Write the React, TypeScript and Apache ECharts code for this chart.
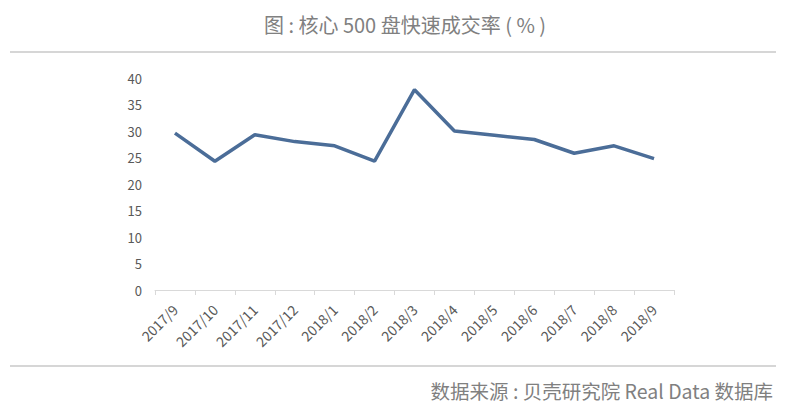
import React, { useEffect, useRef } from "react";
import * as echarts from "echarts";

const categories = [
  "2017/9", "2017/10", "2017/11", "2017/12", "2018/1", "2018/2", "2018/3",
  "2018/4", "2018/5", "2018/6", "2018/7", "2018/8", "2018/9",
];
const rates = [29.6, 24.3, 29.3, 28.0, 27.2, 24.3, 37.8, 30.0, 29.2, 28.4, 25.8, 27.2, 24.8];
const titleText = "图 : 核心 500 盘快速成交率 ( % )";
const sourceText = "数据来源 : 贝壳研究院 Real Data 数据库";

export default function App() {
  const ref = useRef<HTMLDivElement>(null);
  useEffect(() => {
    if (!ref.current) return;
    const chart = echarts.init(ref.current, undefined, { renderer: "svg" });
    const font = "'Microsoft YaHei', 'Noto Sans CJK SC', 'Open Sans', sans-serif";
    chart.setOption({
      animation: false,
      backgroundColor: "#ffffff",
      grid: { left: 155, right: 114, top: 78, bottom: 126, containLabel: false },
      xAxis: {
        type: "category",
        data: categories,
        boundaryGap: true,
        axisLine: { lineStyle: { color: "#d9d9d9", width: 1 } },
        axisTick: { show: true, length: 5, lineStyle: { color: "#d9d9d9" } },
        axisLabel: { rotate: 45, color: "#595959", fontSize: 14, fontFamily: font, margin: 17, interval: 0 },
      },
      yAxis: {
        type: "value",
        min: 0,
        max: 40,
        interval: 5,
        axisLine: { show: false },
        axisTick: { show: false },
        splitLine: { show: false },
        axisLabel: { color: "#595959", fontSize: 13, fontFamily: font, margin: 13 },
      },
      series: [
        {
          type: "line",
          data: rates,
          symbol: "none",
          lineStyle: { color: "#4b6d98", width: 3.5 },
        },
      ],
      graphic: [
        {
          type: "text",
          x: 405,
          y: 14,
          style: { text: titleText, fill: "#808080", fontSize: 20, fontFamily: font, align: "center" },
        },
        {
          type: "line",
          shape: { x1: 10, y1: 52, x2: 776, y2: 52 },
          style: { stroke: "#c8c8c8", lineWidth: 1.5 },
        },
        {
          type: "line",
          shape: { x1: 10, y1: 366, x2: 776, y2: 366 },
          style: { stroke: "#c8c8c8", lineWidth: 1.5 },
        },
        {
          type: "text",
          right: 15,
          top: 381,
          style: { text: sourceText, fill: "#808080", fontSize: 19.5, fontFamily: font },
        },
      ],
    });
    return () => chart.dispose();
  }, []);
  return (
    <div
      ref={ref}
      style={{ position: "fixed", left: 0, top: 0, width: 788, height: 416 }}
    />
  );
}
